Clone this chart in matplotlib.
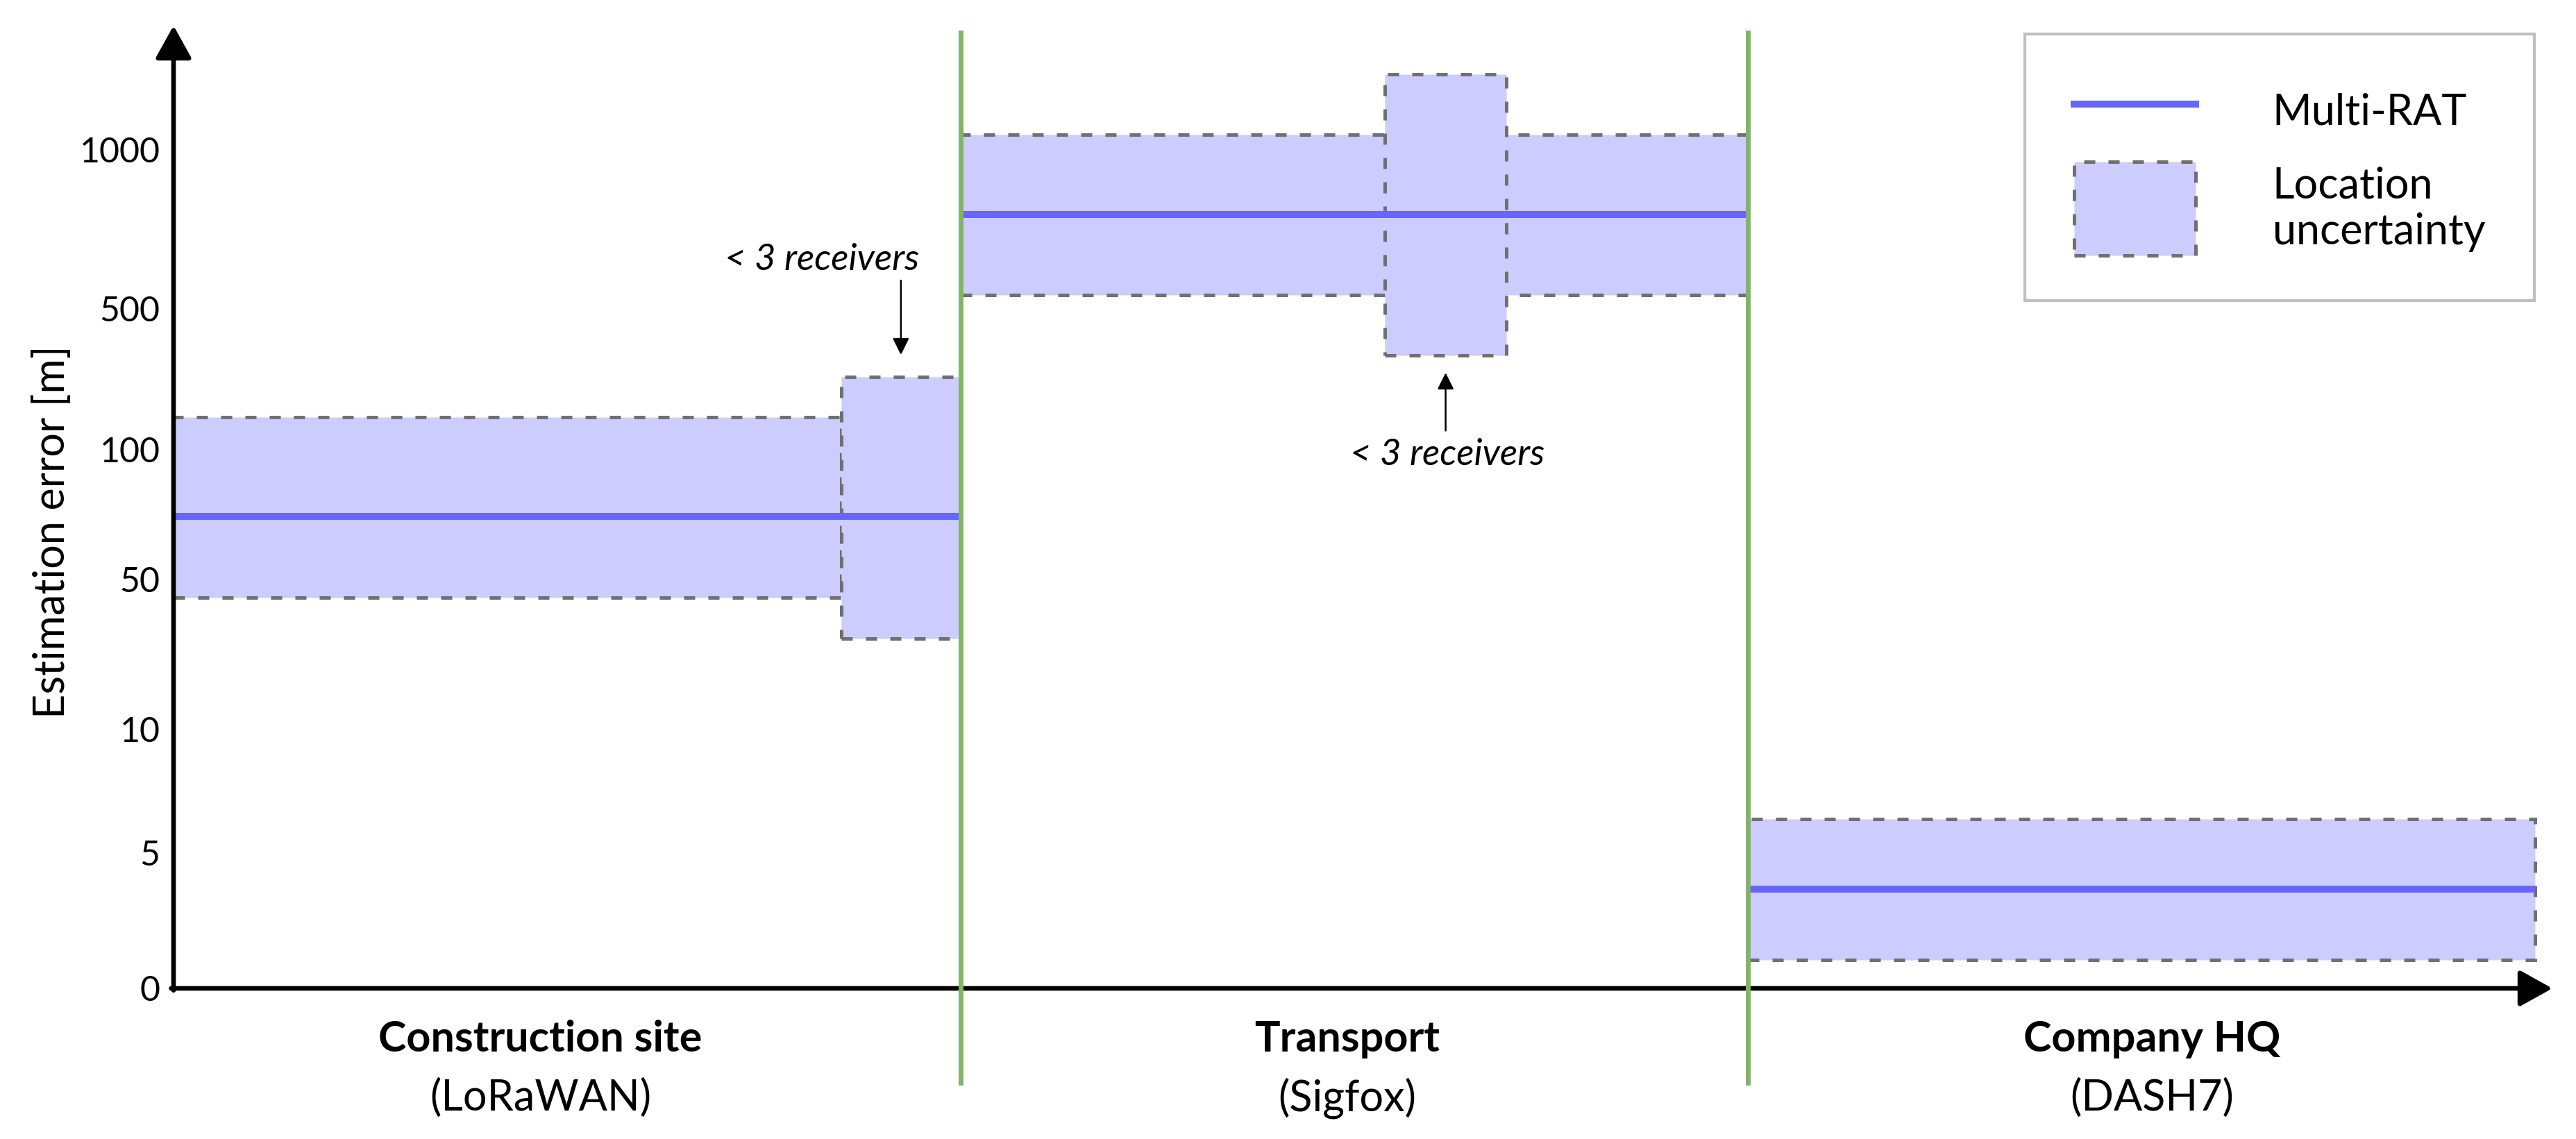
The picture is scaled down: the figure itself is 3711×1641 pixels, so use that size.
"""Multi-RAT location estimation error per use-case phase."""
import numpy as np
import matplotlib.pyplot as plt
import matplotlib.transforms as mtransforms
from matplotlib.patches import Rectangle, Patch
from matplotlib.lines import Line2D
from matplotlib.legend_handler import HandlerPatch

plt.rcParams['font.family'] = ['Lato', 'DejaVu Sans']

# phases of the tracking scenario and the network used in each
categories = ['Construction site', 'Transport', 'Company HQ']
technologies = ['LoRaWAN', 'Sigfox', 'DASH7']

# multi-RAT estimation error per phase [m]
multi_rat = [74, 795, 3.65]

# location uncertainty boxes: phase, start/end within the phase, low/high error [m]
box_cat = [0, 0, 1, 1, 2]
box_start = [0.0, 0.848, 0.0, 0.539, 0.0]
box_end = [0.848, 1.0, 1.0, 0.693, 1.0]
box_low = [45, 34, 541, 366, 1.05]
box_high = [190, 305, 1046, 1236, 6.35]

# boxes where fewer than 3 receivers were available
sparse_boxes = [1, 3]

# the y axis is hand-spaced, not log: knots of the piecewise scale
yticks = [0, 5, 10, 50, 100, 500, 1000]
scale_vals = [0, 5, 10, 50, 100, 500, 1000, 1500]
scale_pos = [0, 196, 374, 590, 777, 980, 1209, 1438]


def forward(v):
    return np.interp(v, scale_vals, scale_pos)


def inverse(p):
    return np.interp(p, scale_pos, scale_vals)


def tall_patch(legend, orig_handle, xdescent, ydescent, width, height, fontsize):
    # legend patch taller than the row handle box, centred on the two-line label
    h = 2.21 * fontsize
    yc = 0.38 * fontsize
    return Rectangle((-xdescent, yc - h / 2), width, h)


W, H, DPI = 3711, 1641, 200
fig = plt.figure(figsize=(W / DPI, H / DPI), dpi=DPI)
ax = fig.add_axes([250 / W, (H - 1424) / H, (3677 - 250) / W, 1387 / H])
ax.set_yscale('function', functions=(forward, inverse))
ax.set_xlim(0, 3.022)
ax.set_ylim(0, 1389)

fill_col = '#ccccff'
edge_col = '#707070'
line_col = '#6666ff'
dash = (0, (3.2, 3.8))

# uncertainty boxes
for c, x0, x1, lo, hi in zip(box_cat, box_start, box_end, box_low, box_high):
    ax.add_patch(Rectangle((c + x0, lo), x1 - x0, hi - lo, facecolor=fill_col,
                           edgecolor=edge_col, linestyle=dash, linewidth=1.8, zorder=2))

# multi-RAT estimate
cats = np.arange(len(categories))
ax.hlines(multi_rat, cats, cats + 1, color=line_col, linewidth=3.6, zorder=3)

# phase separators
for i in range(1, len(categories)):
    ax.axvline(i, ymin=-0.098, ymax=0.993, color='#82b366', linewidth=2.5,
               clip_on=False, zorder=4)

# axes drawn as arrows
for spine in ax.spines.values():
    spine.set_visible(False)
arrow = dict(arrowstyle='-|>,head_length=0.72,head_width=0.4', mutation_scale=20,
             linewidth=2.4, color='black', shrinkA=0, shrinkB=0)
ax.annotate('', xy=(0, 1), xytext=(0, -0.002), xycoords='axes fraction', arrowprops=arrow)
ax.annotate('', xy=(1, 0), xytext=(-0.001, 0), xycoords='axes fraction', arrowprops=arrow)

ax.set_xticks([])
ax.set_yticks(yticks)
ax.set_yticklabels([str(t) for t in yticks])
ax.yaxis.set_minor_locator(plt.NullLocator())
ax.tick_params(axis='y', length=0, pad=7, labelsize=18)
ax.set_ylabel('Estimation error [m]', fontsize=22, va='center')
ax.yaxis.set_label_coords(-0.0508, 0.4744)

# phase labels under the x axis (hand placed, slightly off-centre as in the original)
label_x = [0.466, 1.491, 2.513]
trans = mtransforms.blended_transform_factory(ax.transData, ax.transAxes)
for x, cat, tech in zip(label_x, categories, technologies):
    ax.text(x, -0.0526, cat, transform=trans, ha='center', va='center',
            fontsize=22, fontweight='bold')
    ax.text(x, -0.114, f'({tech})', transform=trans, ha='center', va='center',
            fontsize=22)

# "< 3 receivers" notes
small_arrow = dict(arrowstyle='-|>,head_length=0.4,head_width=0.2', mutation_scale=18,
                   linewidth=0.9, color='black', shrinkA=0)
for k, b in enumerate(sparse_boxes):
    cx = box_cat[b] + (box_start[b] + box_end[b]) / 2
    if k == 0:
        ax.annotate('', xy=(cx, box_high[b]), xytext=(0, 50), textcoords='offset points',
                    arrowprops=dict(small_arrow, shrinkB=11.5))
        ax.annotate('< 3 receivers', xy=(cx, box_high[b]), xytext=(-41, 61),
                    textcoords='offset points', ha='center', va='center',
                    fontsize=19, style='italic')
    else:
        ax.annotate('', xy=(cx, box_low[b]), xytext=(0, -39), textcoords='offset points',
                    arrowprops=dict(small_arrow, shrinkB=9))
        ax.annotate('< 3 receivers', xy=(cx, box_low[b]), xytext=(1, -51.5),
                    textcoords='offset points', ha='center', va='center',
                    fontsize=19, style='italic')

handles = [Line2D([], [], color=line_col, linewidth=3.6),
           Patch(facecolor=fill_col, edgecolor=edge_col, linestyle=dash, linewidth=1.8)]
leg = ax.legend(handles, ['Multi-RAT', 'Location\nuncertainty'], loc='upper right',
                bbox_to_anchor=(3651 / W, 1 - 49 / H), bbox_transform=fig.transFigure,
                borderaxespad=0, fontsize=22, handlelength=2.86, handleheight=1.6,
                handletextpad=1.81, labelspacing=0.67, borderpad=1.16,
                fancybox=False, framealpha=1,
                handler_map={Patch: HandlerPatch(patch_func=tall_patch)})
leg.get_frame().set_edgecolor('#bfbfbf')
leg.get_frame().set_linewidth(1.5)

fig.savefig('out.png', dpi=DPI)
